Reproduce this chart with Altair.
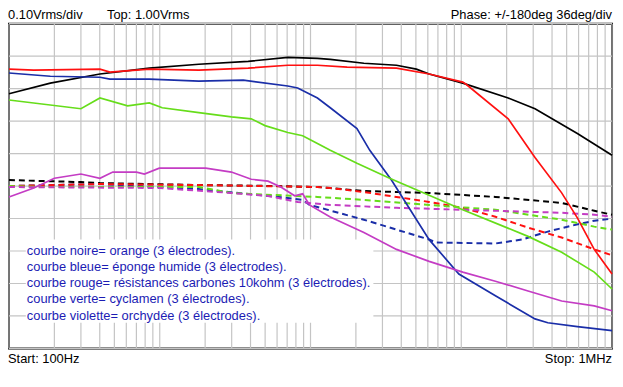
import altair as alt
import pandas as pd

# ---------------- data ----------------
series_names = ["noire", "bleue", "rouge", "verte", "violette"]
series_colors = ["#000000", "#1a2ea8", "#ff1010", "#66dd1a", "#c43cc4"]

# Amplitude (Vrms) curves
black_f = [100, 188, 401, 853, 1816, 3863, 7063, 11117, 13521, 22600, 37180, 50330, 61220, 102300, 204800, 308300, 589000, 1000000]
black_v = [0.784, 0.817, 0.845, 0.863, 0.875, 0.884, 0.896, 0.893, 0.890, 0.878, 0.872, 0.860, 0.845, 0.817, 0.771, 0.738, 0.662, 0.595]

red_f = [100, 146, 401, 467, 853, 1816, 3863, 7063, 11117, 17490, 37180, 61220, 102300, 107100, 204800, 308300, 463400, 589000, 762000, 1000000]
red_v = [0.860, 0.857, 0.860, 0.851, 0.860, 0.857, 0.863, 0.872, 0.872, 0.866, 0.863, 0.845, 0.820, 0.814, 0.707, 0.588, 0.479, 0.402, 0.305, 0.229]

blue_f = [100, 188, 401, 467, 853, 1816, 3583, 7063, 8222, 11117, 13521, 20330, 24730, 34510, 61220, 96380, 168400, 308300, 375000, 589000, 1000000]
blue_v = [0.848, 0.838, 0.835, 0.829, 0.829, 0.823, 0.826, 0.808, 0.802, 0.771, 0.741, 0.677, 0.610, 0.518, 0.335, 0.229, 0.162, 0.091, 0.079, 0.067, 0.055]

green_f = [100, 300, 401, 612, 853, 1038, 1816, 2988, 4044, 4990, 7063, 8868, 11117, 13521, 20330, 33480, 102300, 277300, 463400, 762000, 1000000]
green_v = [0.765, 0.738, 0.771, 0.747, 0.756, 0.741, 0.726, 0.713, 0.707, 0.686, 0.665, 0.655, 0.631, 0.610, 0.570, 0.524, 0.427, 0.345, 0.296, 0.235, 0.183]

violet_f = [100, 146, 200, 300, 401, 488, 701, 791, 993, 2018, 2988, 4044, 5224, 6355, 7852, 8868, 9845, 13521, 22600, 37180, 61220, 102300, 168400, 277300, 463400, 762000, 1000000]
violet_v = [0.466, 0.494, 0.524, 0.537, 0.524, 0.543, 0.543, 0.537, 0.555, 0.555, 0.543, 0.521, 0.515, 0.497, 0.470, 0.476, 0.442, 0.405, 0.357, 0.305, 0.268, 0.235, 0.207, 0.177, 0.146, 0.131, 0.116]

# Phase (degrees) curves, dashed
black_pf = [100, 300, 401, 1816, 6079, 11117, 13521, 22600, 61220, 168400, 463400, 762000, 1000000]
black_pd = [6.6, 4.4, 3.3, 1.1, 0.0, -1.1, -2.2, -5.5, -7.7, -12.1, -18.7, -27.4, -31.8]

red_pf = [100, 401, 1816, 11117, 13521, 22600, 37180, 61220, 102300, 168400, 277300, 463400, 762000, 1000000]
red_pd = [0.0, 2.2, 1.1, -1.1, -2.2, -6.6, -12.1, -17.6, -24.1, -34.0, -46.1, -57.1, -70.2, -76.8]

green_pf = [100, 188, 1816, 2988, 4044, 11117, 22600, 61220, 168400, 463400, 762000, 1000000]
green_pd = [0.0, -1.1, -1.1, -7.7, -8.8, -12.1, -15.4, -20.9, -26.3, -37.3, -45.0, -48.3]

violet_pf = [100, 1000, 2988, 5224, 8222, 13521, 37180, 102300, 277300, 463400, 762000, 1000000]
violet_pd = [-1.1, -2.2, -7.7, -11.0, -17.6, -20.9, -24.1, -26.3, -28.5, -29.6, -31.8, -34.0]

blue_pf = [100, 401, 1816, 7063, 8868, 9845, 22600, 37180, 61220, 68030, 168400, 227500, 253000, 375000, 538300, 762000, 1000000]
blue_pd = [0.0, 2.2, -3.3, -13.2, -15.4, -20.9, -37.3, -48.3, -59.3, -62.6, -63.7, -60.4, -59.3, -50.5, -44.0, -38.4, -36.2]

# grid values
x_grid = [100, 200, 300, 400, 500, 600, 700, 800, 900,
          1000, 2000, 3000, 4000, 5000, 6000, 7000, 8000, 9000,
          10000, 20000, 30000, 40000, 50000, 60000, 70000, 80000, 90000,
          100000, 200000, 300000, 400000, 500000, 600000, 700000, 800000, 900000, 1000000]
y_grid = [0.0, 0.1, 0.2, 0.3, 0.4, 0.5, 0.6, 0.7, 0.8, 0.9, 1.0]

# texts
header_left = "0.10Vrms/div"
header_mid = "Top: 1.00Vrms"
header_right = "Phase: +/-180deg  36deg/div"
footer_left = "Start: 100Hz"
footer_right = "Stop: 1MHz"
legend_lines = [
    "courbe noire= orange (3 électrodes).",
    "courbe bleue= éponge humide (3 électrodes).",
    "courbe rouge= résistances carbones 10kohm (3 électrodes).",
    "courbe verte= cyclamen (3 électrodes).",
    "courbe violette= orchydée (3 électrodes).",
]

# ---------------- tables ----------------
def table(fs, vs, name, col):
    return pd.DataFrame({"f": fs, col: vs, "s": name})

mag = pd.concat([
    table(black_f, black_v, "noire", "v"),
    table(blue_f, blue_v, "bleue", "v"),
    table(red_f, red_v, "rouge", "v"),
    table(green_f, green_v, "verte", "v"),
    table(violet_f, violet_v, "violette", "v"),
])
phase = pd.concat([
    table(black_pf, black_pd, "noire", "deg"),
    table(blue_pf, blue_pd, "bleue", "deg"),
    table(red_pf, red_pd, "rouge", "deg"),
    table(green_pf, green_pd, "verte", "deg"),
    table(violet_pf, violet_pd, "violette", "deg"),
])

FONT = "Liberation Sans"
GRID = "#c4c4c4"
x_scale = alt.Scale(type="log", domain=[100, 1000000], nice=False)
v_scale = alt.Scale(domain=[0, 1], nice=False)
color = alt.Color("s:N", scale=alt.Scale(domain=series_names, range=series_colors), legend=None)

vgrid = alt.Chart(pd.DataFrame({"g": x_grid})).mark_rule(color=GRID, strokeWidth=1.2).encode(
    x=alt.X("g:Q", scale=x_scale, axis=None), y=alt.value(0), y2=alt.value(328)
)
hgrid = alt.Chart(pd.DataFrame({"g": y_grid})).mark_rule(color=GRID, strokeWidth=1.2).encode(
    y=alt.Y("g:Q", scale=v_scale, axis=None), x=alt.value(0), x2=alt.value(609)
)

box = alt.Chart(pd.DataFrame({"a": [0]})).mark_rect(color="white").encode(
    x=alt.value(17), x2=alt.value(368), y=alt.value(218), y2=alt.value(302)
)

phase_chart = alt.Chart(phase).mark_line(strokeWidth=2, strokeDash=[6, 4]).encode(
    x=alt.X("f:Q", scale=x_scale, axis=None),
    y=alt.Y("deg:Q", scale=alt.Scale(domain=[-180, 180], nice=False, zero=False), axis=None),
    color=color,
)

mag_chart = alt.Chart(mag).mark_line(strokeWidth=1.7).encode(
    x=alt.X("f:Q", scale=x_scale, axis=None),
    y=alt.Y("v:Q", scale=v_scale, axis=None),
    color=color,
)

def txt(s, x, y, align="left", size=13, col="black"):
    return alt.Chart(pd.DataFrame({"t": [s]})).mark_text(
        align=align, baseline="middle", fontSize=size, font=FONT, color=col
    ).encode(text="t:N", x=alt.value(x), y=alt.value(y))

layers = [vgrid, hgrid, box, phase_chart, mag_chart]
layers.append(txt(header_left, -1, -9))
layers.append(txt(header_mid, 99, -9))
layers.append(txt(header_right, 609, -9, align="right"))
layers.append(txt(footer_left, -1, 339))
layers.append(txt(footer_right, 609, 339, align="right"))
legend_y = [230, 246, 262, 278, 295]
for line, yy in zip(legend_lines, legend_y):
    layers.append(txt(line, 18, yy, size=13, col="#1c1cb4"))

chart = alt.layer(*layers).resolve_scale(y="independent").properties(
    width=609, height=328,
    padding={"left": 1, "top": 14, "right": 3, "bottom": 22},
    autosize=alt.AutoSizeParams(type="none"),
    background="white",
).configure_view(stroke="black", strokeWidth=2)

chart.save("out.html", embed_options={"renderer": "svg", "actions": False})
